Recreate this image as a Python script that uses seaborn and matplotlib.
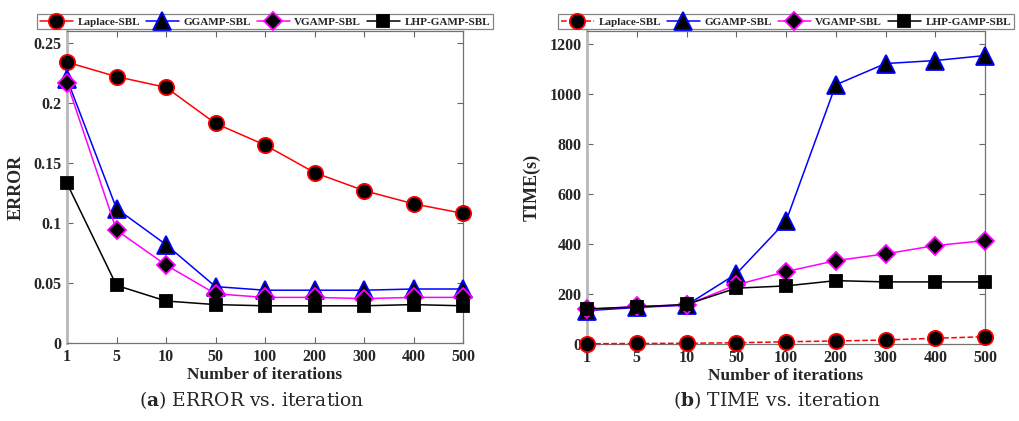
import numpy as np
import pandas as pd
import matplotlib
matplotlib.use('Agg')
import matplotlib.pyplot as plt
import seaborn as sns

# Data
iterations = ['1', '5', '10', '50', '100', '200', '300', '400', '500']
methods = ['Laplace-SBL', 'GGAMP-SBL', 'VGAMP-SBL', 'LHP-GAMP-SBL']

error_laplace = [0.234, 0.222, 0.213, 0.183, 0.165, 0.142, 0.127, 0.116, 0.108]
error_ggamp = [0.220, 0.112, 0.082, 0.047, 0.044, 0.044, 0.044, 0.045, 0.045]
error_vgamp = [0.217, 0.094, 0.065, 0.041, 0.038, 0.038, 0.037, 0.038, 0.038]
error_lhp = [0.133, 0.048, 0.035, 0.032, 0.031, 0.031, 0.031, 0.032, 0.031]

time_laplace = [1, 2, 3, 5, 9, 12, 16, 23, 29]
time_ggamp = [133, 146, 155, 280, 490, 1035, 1120, 1132, 1152]
time_vgamp = [138, 150, 156, 236, 289, 333, 360, 393, 413]
time_lhp = [140, 148, 158, 223, 232, 253, 248, 248, 248]

sns.set_style('ticks')
plt.rcParams['font.family'] = ['Liberation Serif', 'DejaVu Serif']
plt.rcParams['font.weight'] = 'bold'
plt.rcParams['mathtext.fontset'] = 'dejavuserif'

styles = {
    'Laplace-SBL': dict(color='red', marker='o', markeredgecolor='red', markersize=11),
    'GGAMP-SBL': dict(color='blue', marker='^', markeredgecolor='blue', markersize=13),
    'VGAMP-SBL': dict(color='magenta', marker='D', markeredgecolor='magenta', markersize=9),
    'LHP-GAMP-SBL': dict(color='black', marker='s', markeredgecolor='black', markersize=8.5),
}

fig = plt.figure(figsize=(10.19, 4.21), dpi=100)
ax1 = fig.add_axes([67 / 1019, 78 / 421, 396 / 1019, 312 / 421])
ax2 = fig.add_axes([587 / 1019, 77 / 421, 398 / 1019, 313 / 421])

x = np.arange(len(iterations))


def draw(ax, series, dashed_first=False):
    for name, vals in zip(methods, series):
        st = styles[name]
        ls = '--' if (dashed_first and name == 'Laplace-SBL') else '-'
        sns.lineplot(x=x, y=vals, ax=ax, label=name, linestyle=ls,
                     color=st['color'], marker=st['marker'],
                     markersize=st['markersize'], markerfacecolor='black',
                     markeredgecolor=st['markeredgecolor'], markeredgewidth=1.3,
                     linewidth=1.1, clip_on=False, zorder=3)
    ax.set_xlim(0, len(iterations) - 1)
    ax.set_xticks(x)
    ax.set_xticklabels(iterations)
    ax.tick_params(direction='in', top=True, right=True, labelsize=11.5,
                   length=4, color='0.4', pad=4)
    for s in ['top', 'right', 'bottom']:
        ax.spines[s].set_color('0.45')
        ax.spines[s].set_linewidth(0.9)
    ax.spines['left'].set_color('0.72')
    ax.spines['left'].set_linewidth(2)
    ax.set_xlabel('Number of iterations', fontsize=12.5, fontweight='bold', labelpad=2)
    ax.legend(loc='lower center', bbox_to_anchor=(0.5, 1.0), ncol=4,
              prop={'size': 8, 'weight': 'bold'}, frameon=True, fancybox=False,
              edgecolor='0.4', borderpad=0.25, handlelength=3.0,
              handletextpad=0.4, columnspacing=0.5, borderaxespad=0.15)
    ax.get_legend().get_frame().set_linewidth(0.9)


draw(ax1, [error_laplace, error_ggamp, error_vgamp, error_lhp])
ax1.set_ylim(0, 0.26)
ax1.set_yticks([0, 0.05, 0.1, 0.15, 0.2, 0.25])
ax1.set_yticklabels(['0', '0.05', '0.1', '0.15', '0.2', '0.25'])
ax1.set_ylabel('ERROR', fontsize=13, fontweight='bold', labelpad=6)

draw(ax2, [time_laplace, time_ggamp, time_vgamp, time_lhp], dashed_first=True)
ax2.set_ylim(0, 1250)
ax2.set_yticks([0, 200, 400, 600, 800, 1000, 1200])
ax2.set_ylabel('TIME(s)', fontsize=13, fontweight='bold', labelpad=6)
for ax in (ax1, ax2):
    for lab in ax.get_xticklabels() + ax.get_yticklabels():
        lab.set_fontweight('bold')

fig.text(252 / 1019, 21 / 421, r'($\mathbf{a}$) ERROR vs. iteration', ha='center', va='center',
         fontsize=13.5, fontweight='normal', family='DejaVu Serif')
fig.text(777 / 1019, 21 / 421, r'($\mathbf{b}$) TIME vs. iteration', ha='center', va='center',
         fontsize=13.5, fontweight='normal', family='DejaVu Serif')

fig.savefig('out.png', dpi=100)
